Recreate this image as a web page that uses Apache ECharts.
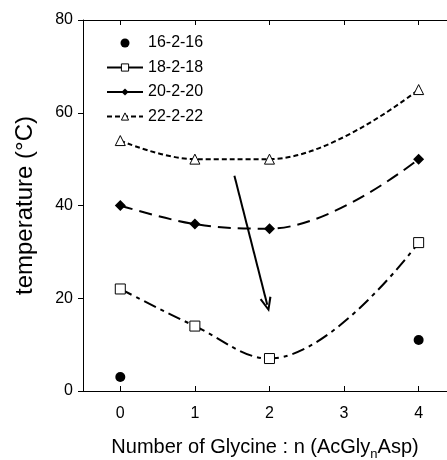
<!DOCTYPE html>
<html><head><meta charset="utf-8">
<script src="https://cdn.jsdelivr.net/npm/echarts@6/dist/echarts.min.js"></script>
<style>html,body{margin:0;padding:0;background:#fff}#c{width:447px;height:460px}</style>
</head><body><div id="c"></div>
<script>
var xTicks = [0, 1, 2, 3, 4];
var yTicks = [0, 20, 40, 60, 80];
var names = ['16-2-16', '18-2-18', '20-2-20', '22-2-22'];
var s16x = [0, 4];
var s16y = [3, 11];
var s18x = [0, 1, 2, 4];
var s18y = [22, 14, 7, 32];
var s20x = [0, 1, 2, 4];
var s20y = [40, 36, 35, 50];
var s22x = [0, 1, 2, 4];
var s22y = [54, 50, 50, 65];
var arrowFrom = [1.53, 46.4];
var arrowTo = [1.97, 18.6];

function pairs(xs, ys) { return xs.map(function (x, i) { return [x, ys[i]]; }); }
var font = 'Liberation Sans, Arial, sans-serif';
var chart = echarts.init(document.getElementById('c'), null, {renderer: 'canvas'});
chart.setOption({
  animation: false,
  backgroundColor: '#fff',
  grid: {left: 83, top: 20, right: 0, bottom: 69, outerBoundsMode: 'none', containLabel: false},
  legend: {
    orient: 'vertical', left: 101, top: 30,
    itemWidth: 36, itemHeight: 9, itemGap: 8.5,
    itemStyle: {borderWidth: 1},
    lineStyle: {width: 2},
    textStyle: {fontFamily: font, fontSize: 16, color: '#000'},
    data: [
      {name: names[0]},
      {name: names[1], lineStyle: {type: 'solid'}},
      {name: names[2], lineStyle: {type: 'solid'}},
      {name: names[3]}
    ]
  },
  xAxis: [{
    type: 'value', min: -0.5, max: 4.38,
    splitLine: {show: false},
    axisLine: {show: true, onZero: false, lineStyle: {color: '#000', width: 1}},
    axisTick: {show: true, inside: true, length: 5, customValues: xTicks, lineStyle: {color: '#000'}},
    axisLabel: {customValues: xTicks, fontFamily: font, fontSize: 16, color: '#000', margin: 15},
    name: '{a|Number of Glycine : n (AcGly}{s|n}{a|Asp)}',
    nameLocation: 'middle', nameGap: 43,
    nameTextStyle: {rich: {a: {fontFamily: font, fontSize: 20, color: '#000'}, s: {fontFamily: font, fontSize: 13, color: '#000', verticalAlign: 'bottom', padding: [14, 0, 0, 0]}}}
  }, {
    type: 'value', position: 'top', min: -0.5, max: 4.38,
    splitLine: {show: false},
    axisLine: {show: true, onZero: false, lineStyle: {color: '#000', width: 1}},
    axisTick: {show: true, inside: true, length: 5, customValues: xTicks, lineStyle: {color: '#000'}},
    axisLabel: {show: false}
  }],
  yAxis: {
    type: 'value', min: 0, max: 80, interval: 20,
    splitLine: {show: false},
    axisLine: {show: true, onZero: false, lineStyle: {color: '#000', width: 1}},
    axisTick: {show: true, length: 5, lineStyle: {color: '#000'}},
    axisLabel: {fontFamily: font, fontSize: 16, color: '#000', margin: 10},
    name: 'temperature (°C)', nameLocation: 'middle', nameGap: 46,
    nameTextStyle: {fontFamily: font, fontSize: 24, color: '#000'}
  },
  series: [{
    name: names[0], type: 'scatter', data: pairs(s16x, s16y),
    symbol: 'circle', symbolSize: 10,
    itemStyle: {color: '#000', opacity: 1},
    markLine: {
      silent: true,
      symbol: ['none', 'path://M5,0 L10,12 L8.4,12.8 L5,4.2 L1.6,12.8 L0,12 Z'],
      symbolSize: [12, 15],
      label: {show: false},
      lineStyle: {color: '#000', width: 2, type: 'solid'},
      itemStyle: {color: '#000'},
      data: [[{coord: arrowFrom}, {coord: arrowTo}]]
    }
  }, {
    name: names[1], type: 'line', data: pairs(s18x, s18y), smooth: 0.4,
    symbol: 'rect', symbolSize: 10,
    itemStyle: {color: '#fff', borderColor: '#000', borderWidth: 1},
    lineStyle: {color: '#000', width: 2, type: [13, 5, 4, 5]}
  }, {
    name: names[2], type: 'line', data: pairs(s20x, s20y), smooth: 0.4,
    symbol: 'diamond', symbolSize: 11,
    itemStyle: {color: '#000'},
    lineStyle: {color: '#000', width: 2, type: [13, 7]}
  }, {
    name: names[3], type: 'line', data: pairs(s22x, s22y), smooth: 0.4,
    symbol: 'triangle', symbolSize: 10,
    itemStyle: {color: '#fff', borderColor: '#000', borderWidth: 1},
    lineStyle: {color: '#000', width: 2, type: [5, 3]}
  }]
});
</script></body></html>
